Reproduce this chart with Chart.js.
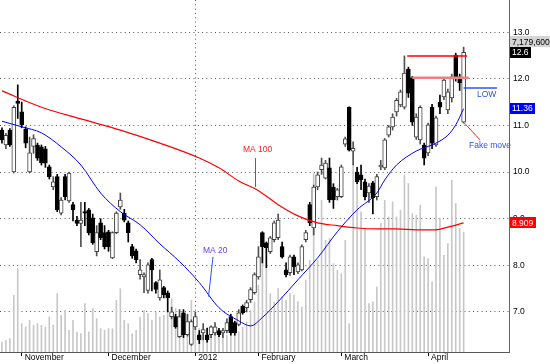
<!DOCTYPE html>
<html>
<head>
<meta charset="utf-8">
<script src="https://cdn.jsdelivr.net/npm/chart.js@4.4.1/dist/chart.umd.min.js"></script>
<style>
  html, body { margin: 0; padding: 0; background: #fff; }
  canvas { display: block; }
</style>
</head>
<body>
<canvas id="chart" width="550" height="364"></canvas>
<script>
// daily candles, late Oct 2011 .. mid Apr 2012
const opens = [10.90,10.58,10.90,10.00,11.52,11.29,10.92,10.00,10.55,10.58,10.54,10.50,10.11,9.68,9.90,9.12,9.90,9.38,9.30,8.97,
  8.90,9.15,9.19,9.02,8.29,8.91,8.70,8.72,8.16,8.70,9.25,9.12,8.91,8.40,8.31,7.80,7.75,7.46,8.12,7.63,
  7.30,7.52,7.41,6.90,6.90,6.47,6.98,6.51,6.30,6.68,6.51,6.55,6.51,6.51,6.55,6.60,6.55,6.60,6.90,6.77,
  6.73,7.12,7.09,7.26,7.41,7.75,8.70,8.48,8.29,8.55,8.59,8.40,7.90,7.84,8.18,7.86,7.90,8.55,9.30,8.80,
  9.68,10.05,9.87,10.09,9.68,9.47,9.47,10.60,11.39,10.45,10.00,9.94,9.79,9.55,9.77,9.47,10.11,10.09,10.79,10.97,
  11.29,11.44,11.39,12.21,12.02,10.75,10.69,10.58,10.41,11.39,10.58,11.50,11.61,11.33,11.59,12.51,12.04,11.07];
const highs = [10.95,10.83,10.93,11.42,11.87,11.50,10.97,10.75,10.80,10.62,10.58,10.55,10.15,9.90,9.95,9.45,9.95,10.00,9.35,9.05,
  9.35,9.35,9.22,9.10,8.85,9.00,8.85,8.75,8.72,9.15,9.55,9.20,8.95,8.45,8.35,8.12,7.84,8.05,8.15,7.65,
  7.90,7.55,7.45,7.10,6.95,7.05,7.05,6.95,6.83,7.00,6.60,6.75,6.65,6.70,6.77,6.65,6.65,6.85,6.95,6.80,
  7.05,7.15,7.25,7.52,7.84,8.40,8.72,8.50,8.62,8.95,9.10,8.50,8.05,8.22,8.22,8.05,8.44,8.75,9.35,9.72,
  10.00,10.30,10.25,10.30,9.75,9.65,10.15,10.75,11.40,10.65,10.10,10.15,9.85,9.75,9.80,9.95,10.25,10.72,11.00,11.25,
  11.58,11.76,12.49,12.25,12.05,11.25,11.42,10.62,11.05,11.45,11.20,11.65,12.00,11.78,12.10,12.55,12.10,12.68];
const lows = [10.62,10.50,10.55,9.98,11.15,10.95,10.52,9.98,10.40,10.25,10.15,10.10,9.85,9.62,9.15,9.08,9.40,9.35,8.95,8.85,
  8.40,8.85,8.65,8.45,8.20,8.55,8.35,8.30,8.14,8.68,9.20,8.93,8.50,8.15,8.05,7.70,7.41,7.40,7.45,7.40,
  7.25,7.30,7.00,6.85,6.65,6.45,6.45,6.48,6.28,6.62,6.32,6.40,6.35,6.45,6.50,6.47,6.45,6.55,6.50,6.50,
  6.70,6.95,7.00,7.20,7.38,7.70,8.05,7.95,8.25,8.50,8.55,8.15,7.75,7.78,7.80,7.82,7.88,8.50,8.85,8.65,
  9.62,9.95,9.85,9.35,9.22,9.40,9.45,10.55,10.45,10.15,9.75,9.62,9.40,9.35,9.10,9.40,10.05,10.05,10.75,10.90,
  11.20,11.40,11.35,11.60,11.00,10.70,10.60,10.15,10.35,10.50,10.55,11.25,11.55,11.25,11.50,11.95,11.75,11.05];
const closes = [10.69,10.79,10.58,11.39,11.47,11.01,10.62,10.41,10.72,10.30,10.20,10.19,9.90,9.79,9.19,9.40,9.47,9.98,9.19,8.90,
  8.97,9.12,8.70,8.48,8.70,8.59,8.40,8.40,8.70,9.12,9.40,8.97,8.70,8.20,8.12,7.90,7.80,8.01,7.90,7.48,
  7.69,7.37,7.30,7.00,6.68,6.90,6.51,6.79,6.79,6.90,6.40,6.62,6.40,6.68,6.68,6.51,6.60,6.77,6.55,6.55,
  6.98,6.98,7.20,7.48,7.80,8.18,8.40,8.38,8.59,8.91,8.97,8.18,7.80,8.18,7.97,8.01,8.40,8.70,8.91,9.68,
  9.94,10.15,10.19,9.40,9.40,9.62,10.11,10.71,10.47,10.51,9.79,9.83,9.47,9.70,9.45,9.90,10.15,10.69,10.97,11.18,
  11.54,11.72,12.12,11.69,11.07,11.18,11.39,10.30,11.01,10.62,11.16,11.39,11.97,11.72,12.04,12.02,11.91,12.57];
// volume in millions of shares
const volumes = [0.6,0.7,0.8,3.4,5.0,1.7,1.5,1.9,1.6,1.7,1.6,1.5,2.1,1.6,3.5,2.2,2.5,1.3,1.9,1.2,
  1.1,2.9,1.2,2.6,2.0,1.4,1.3,1.4,1.4,3.1,3.8,1.9,1.7,1.1,1.3,2.1,2.5,2.3,1.9,2.4,
  2.1,2.2,2.4,3.2,2.6,2.3,2.4,2.2,3.1,1.7,1.4,1.2,1.5,1.5,1.5,1.2,1.2,1.0,1.3,1.7,
  1.2,1.5,1.8,2.5,3.0,4.0,5.7,5.1,3.5,3.0,3.8,3.3,3.1,3.5,3.4,3.0,2.7,4.3,5.5,10.7,
  5.5,9.1,6.7,6.8,5.3,4.9,4.7,6.7,1.7,11.3,10.1,8.4,7.4,2.9,3.0,3.9,7.7,9.1,8.1,9.0,
  8.1,8.5,10.6,10.1,8.3,8.2,8.8,5.7,5.6,4.2,9.9,8.0,5.8,6.5,10.3,8.9,7.4,7.1796];

// moving averages, read at selected days
const ma20Days = [0,5,10,15,20,25,30,35,40,45,50,55,60,63,66,70,75,80,85,90,95,97,100,105,110,113,115,117];
const ma20Vals = [11.09,10.97,10.84,10.54,10.15,9.55,9.15,8.87,8.46,8.08,7.63,7.09,6.81,6.70,6.88,7.22,7.69,8.16,8.72,9.19,9.55,9.83,10.15,10.45,10.62,10.79,11.01,11.36];
const ma100Days = [0,10,20,30,40,50,55,60,65,70,75,80,85,90,95,100,105,110,113,117];
const ma100Vals = [11.74,11.39,11.14,10.90,10.62,10.30,10.09,9.81,9.60,9.30,9.06,8.91,8.85,8.80,8.78,8.78,8.76,8.76,8.82,8.909];

const monthStarts = [5, 27, 49, 65, 86, 108];
const monthNames = ["November", "December", "2012", "February", "March", "April"];
const priceTicks = [7, 8, 9, 10, 11, 12, 13];

const SLOTS = 129;
const days = Array.from({ length: SLOTS }, (_, i) => i);
const up = closes.map((c, i) => c >= opens[i]);
const FONT = "'Liberation Sans', Arial, sans-serif";
const FSIZE = 8.5;

const overlay = {
  id: "overlay",
  afterDraw(chart) {
    const { ctx, chartArea } = chart;
    const x = chart.scales.x, y = chart.scales.y;
    const px = (d) => x.getPixelForValue(d);
    const py = (v) => y.getPixelForValue(v);
    ctx.save();
    ctx.font = FSIZE + "px " + FONT;
    ctx.textBaseline = "middle";

    const line = (x1, y1, x2, y2, color, w) => {
      ctx.strokeStyle = color; ctx.lineWidth = w;
      ctx.beginPath(); ctx.moveTo(x1, y1); ctx.lineTo(x2, y2); ctx.stroke();
    };

    // MA labels with leaders
    ctx.fillStyle = "#ff2020";
    ctx.fillText("MA 100", 243, py(10.47));
    line(255.5, py(10.30), 255.5, py(9.68), "#ff2020", 1);
    ctx.fillStyle = "#6a3cf0";
    ctx.fillText("MA 20", 203, py(8.31));
    line(213, py(8.18), 208.5, py(7.33), "#3050f0", 1);

    // resistance / support levels
    line(px(102.7), py(12.49), px(117.9), py(12.49), "#ff0000", 1.5);
    line(px(104), py(12.02), px(118.3), py(12.02), "#f08080", 2.5);
    line(px(117), py(11.80), 497, py(11.80), "#3050f0", 1.5);
    ctx.fillStyle = "#3050f0";
    ctx.fillText("LOW", 477, py(11.67));
    line(px(117.2), py(11.05), 480, py(10.69), "#ff2020", 1);
    ctx.fillText("Fake move", 469, py(10.56));

    // value boxes on the right axis
    const bx = chartArea.right + 1;
    const box = (txt, yc, bg, fg) => {
      const w = Math.ceil(ctx.measureText(txt).width) + 4;
      ctx.fillStyle = bg; ctx.fillRect(bx, Math.round(yc - 5.5), w, 11);
      ctx.fillStyle = fg; ctx.fillText(txt, bx + 2, yc + 0.5);
    };
    const last = closes.length - 1;
    const yClose = py(closes[last]);
    const ma100Last = ma100Vals[ma100Vals.length - 1];
    const ma20Last = ma20Vals[ma20Vals.length - 1];
    box(ma100Last.toFixed(3), py(ma100Last), "#ff0000", "#fff");
    box(ma20Last.toFixed(2), py(ma20Last), "#0000ff", "#fff");
    box(closes[last].toFixed(1), yClose, "#000", "#fff");
    box(Math.round(volumes[last] * 1e6).toLocaleString("en-US"), yClose - 10.5, "#d4d4d4", "#000");
    ctx.restore();
  }
};

const chart = new Chart(document.getElementById("chart"), {
  data: {
    labels: days,
    datasets: [
      {
        type: "bar", label: "Volume", yAxisID: "yv", order: 5,
        data: volumes, backgroundColor: "#c8c8c8",
        barThickness: 1, grouped: false
      },
      {
        type: "bar", label: "Wick", yAxisID: "y", order: 4,
        data: lows.map((l, i) => [l, highs[i]]),
        backgroundColor: up.map((u) => (u ? "#505050" : "#000")),
        barThickness: 1, grouped: false
      },
      {
        type: "bar", label: "Body", yAxisID: "y", order: 3,
        data: opens.map((o, i) => [Math.min(o, closes[i]), Math.max(o, closes[i])]),
        backgroundColor: up.map((u) => (u ? "#fff" : "#000")),
        borderColor: up.map((u) => (u ? "#404040" : "#000")),
        borderWidth: 1, borderSkipped: false,
        barThickness: 4, grouped: false
      },
      {
        type: "line", label: "MA 20", yAxisID: "y", order: 1,
        data: ma20Days.map((d, i) => ({ x: d, y: ma20Vals[i] })),
        borderColor: "#0000ff", borderWidth: 1, pointRadius: 0,
        cubicInterpolationMode: "monotone"
      },
      {
        type: "line", label: "MA 100", yAxisID: "y", order: 2,
        data: ma100Days.map((d, i) => ({ x: d, y: ma100Vals[i] })),
        borderColor: "#ff0000", borderWidth: 1.2, pointRadius: 0,
        cubicInterpolationMode: "monotone"
      }
    ]
  },
  options: {
    responsive: false,
    animation: false,
    layout: { padding: 0 },
    plugins: { legend: { display: false }, tooltip: { enabled: false } },
    scales: {
      x: {
        type: "category",
        offset: true,
        grid: {
          offset: false,
          color: (c) => (c.index === monthStarts[2] ? "#555" : "rgba(0,0,0,0)"),
          tickColor: (c) => (monthStarts.includes(c.index) ? "#000" : "rgba(0,0,0,0)"),
          tickLength: 4
        },
        border: { display: true, color: "#555", width: 1, dash: [1, 3.3] },
        ticks: {
          autoSkip: false, maxRotation: 0, minRotation: 0,
          align: "start", padding: -3, labelOffset: 3,
          color: "#000", font: { size: FSIZE, family: FONT },
          callback: (v, i) => {
            const k = monthStarts.indexOf(i);
            return k >= 0 ? monthNames[k] : "";
          }
        },
        afterFit: (s) => { s.height = 12; s.paddingLeft = 0; s.paddingRight = 0; }
      },
      y: {
        position: "right",
        min: 6.14, max: 13.69,
        afterBuildTicks: (s) => { s.ticks = priceTicks.map((v) => ({ value: v })); },
        grid: { color: "#555", drawTicks: false },
        border: { display: true, color: "#666", width: 1, dash: [1, 3.3] },
        ticks: {
          padding: 4, color: "#000", font: { size: FSIZE, family: FONT },
          callback: (v) => Number(v).toFixed(1)
        },
        afterFit: (s) => { s.width = 41; s.paddingTop = 0; s.paddingBottom = 0; }
      },
      yv: {
        display: false, min: 0, max: 21.1
      }
    }
  },
  plugins: [overlay]
});
</script>
</body>
</html>
